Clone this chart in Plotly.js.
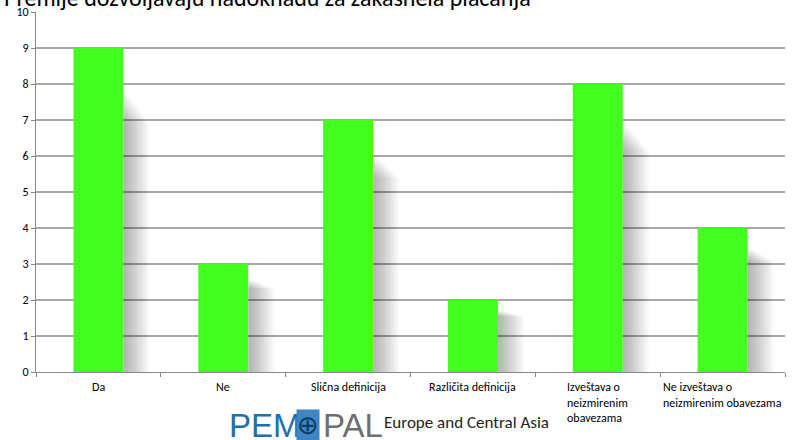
<!DOCTYPE html>
<html>
<head>
<meta charset="utf-8">
<script src="https://cdn.plot.ly/plotly-3.0.1.min.js"></script>
<style>html,body{margin:0;padding:0;background:#fff;}#chart{width:802px;height:440px;}</style>
</head>
<body>
<div id="chart"></div>
<script>
// ---- data ----
const chartTitle = "Premije dozvoljavaju nadoknadu za zakasnela plaćanja";
const categories = ["Da", "Ne", "Slična definicija", "Različita definicija", "Izveštava o neizmirenim obavezama", "Ne izveštava o neizmirenim obavezama"];
const tickLabels = ["Da", "Ne", "Slična definicija", "Različita definicija", "Izveštava o<br>neizmirenim<br>obavezama", "Ne izveštava o<br>neizmirenim obavezama"];
const values = [9, 3, 7, 2, 8, 4];
const yTicks = [0, 1, 2, 3, 4, 5, 6, 7, 8, 9, 10];

const FONT = "Carlito, Lato, 'Open Sans', sans-serif";
const traces = [];

// soft drop shadow (decorative layers derived from the bar heights)
const N = 16;
for (let i = 0; i < N; i++) {
  const k = 0.87 - 0.1 * i / (N - 1);
  traces.push({
    type: 'bar', x: categories, y: values.map(v => v * k),
    offset: 0.2, width: 0.21 * (i + 1) / N,
    marker: {color: 'rgba(0,0,0,0.02)', line: {width: 0}},
    hoverinfo: 'skip', showlegend: false
  });
}
traces.push({
  type: 'bar', x: categories, y: values,
  width: 0.4,
  marker: {color: '#42ff20', line: {width: 0}},
  hoverinfo: 'skip', showlegend: false
});

const annotations = [];
const LOGO = "'Liberation Sans', Arial, sans-serif";
// title (partly above the top edge, as in the reference)
annotations.push({xref: 'paper', yref: 'paper', x: -34 / 749, y: 1 + 14 / 360, xanchor: 'left', yanchor: 'middle',
  text: chartTitle, showarrow: false, font: {family: FONT, size: 24, color: '#000'}});
// logo
annotations.push({xref: 'paper', yref: 'paper', x: (227 - 36) / 749, y: -(425 - 372) / 360, xanchor: 'left', yanchor: 'middle',
  text: 'PEM', showarrow: false, font: {family: LOGO, size: 33, color: '#2170a8'}});
annotations.push({xref: 'paper', yref: 'paper', x: (308 - 36) / 749, y: -(425 - 372) / 360, xanchor: 'center', yanchor: 'middle',
  text: '⊕', showarrow: false, bgcolor: '#3d86c2', borderpad: 0, font: {family: "'DejaVu Sans', sans-serif", size: 26, color: '#0d3a66'}});
annotations.push({xref: 'paper', yref: 'paper', x: (321 - 36) / 749, y: -(425 - 372) / 360, xanchor: 'left', yanchor: 'middle',
  text: 'PAL', showarrow: false, font: {family: LOGO, size: 33, color: '#6e6e70'}});
annotations.push({xref: 'paper', yref: 'paper', x: (382 - 36) / 749, y: -(422 - 372) / 360, xanchor: 'left', yanchor: 'middle',
  text: 'Europe and Central Asia', showarrow: false, font: {family: FONT, size: 17, color: '#222'}});
// category labels
categories.forEach((c, i) => {
  annotations.push({xref: 'x', yref: 'paper', x: c, y: -(379 - 372) / 360, xanchor: 'center', yanchor: 'top',
    text: tickLabels[i], align: 'left', showarrow: false, bgcolor: i === 4 ? '#ffffff' : 'rgba(0,0,0,0)', borderpad: 0,
    font: {family: FONT, size: 12, color: '#000'}});
});

const layout = {
  width: 802, height: 440,
  margin: {l: 36, r: 17, t: 12, b: 68, pad: 0},
  paper_bgcolor: '#fff', plot_bgcolor: '#fff',
  barmode: 'overlay',
  showlegend: false,
  xaxis: {type: 'category', range: [-0.5, 5.5], showticklabels: false, tickson: 'boundaries', ticks: 'outside', ticklen: 4,
    tickcolor: '#868686', showline: true, linecolor: '#868686', linewidth: 1, showgrid: false, zeroline: false, fixedrange: true},
  yaxis: {range: [0, 10], tickvals: yTicks, ticks: 'outside', ticklen: 4, tickcolor: '#868686', showline: true, linecolor: '#868686',
    linewidth: 1, showgrid: true, gridcolor: '#a8a8a8', gridwidth: 1.5, zeroline: false, tickfont: {family: FONT, size: 12, color: '#000'},
    fixedrange: true},
  annotations: annotations
};

Plotly.newPlot('chart', traces, layout, {displayModeBar: false, staticPlot: true});
</script>
</body>
</html>
